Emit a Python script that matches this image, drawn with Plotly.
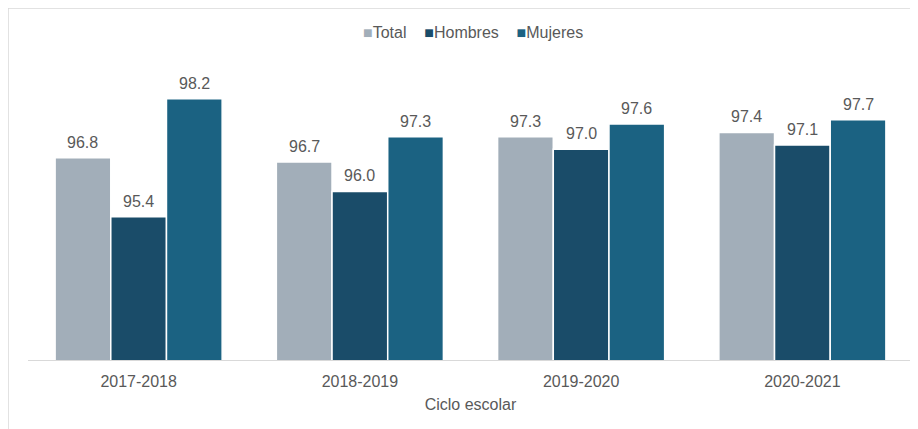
import plotly.graph_objects as go

categories = ["2017-2018", "2018-2019", "2019-2020", "2020-2021"]
total = [96.8, 96.7, 97.3, 97.4]
hombres = [95.4, 96.0, 97.0, 97.1]
mujeres = [98.2, 97.3, 97.6, 97.7]

series = [("Total", total, "#A2AEB9"), ("Hombres", hombres, "#1A4C69"), ("Mujeres", mujeres, "#1B6282")]

W, H = 918, 429
ML, MR, MT, MB = 20, 13, 57, 77
BARGAP = 0.245
plot_w = W - ML - MR
bar_px = plot_w / len(categories) * (1 - BARGAP) / len(series)

fig = go.Figure()
annotations = []
for i, (name, vals, col) in enumerate(series):
    fig.add_trace(go.Bar(
        x=categories, y=vals, name=name,
        marker=dict(color=col, line=dict(color="white", width=1.5)),
    ))
    for c, v in zip(categories, vals):
        annotations.append(dict(
            x=c, y=v, text=f"{v:.1f}", xref="x", yref="y", showarrow=False,
            xanchor="center", yanchor="bottom", xshift=(i - 1) * bar_px, yshift=5,
            font=dict(size=16, color="#595959"),
        ))

legend_html = "".join(
    f"<span style='color:{col}'>■</span>{name}" + ("&nbsp;&nbsp;&nbsp;&nbsp;" if i < len(series) - 1 else "")
    for i, (name, vals, col) in enumerate(series)
)
annotations.append(dict(text=legend_html, xref="paper", yref="paper", x=(465 - ML) / plot_w,
                        y=(352 - 25) / 295, xanchor="center", yanchor="middle", showarrow=False,
                        font=dict(size=16, color="#595959")))

fig.update_layout(
    width=W, height=H,
    margin=dict(l=ML, r=MR, t=MT, b=MB, autoexpand=False),
    paper_bgcolor="white", plot_bgcolor="white",
    font=dict(family="Liberation Sans, Arial, sans-serif", color="#595959", size=16),
    barmode="group", bargap=BARGAP, bargroupgap=0.0,
    showlegend=False,
    xaxis=dict(showline=True, linecolor="#D9D9D9", linewidth=1, ticks="", showgrid=False,
               automargin=False, ticklabelstandoff=7,
               tickfont=dict(size=16, color="#595959"),
               title=dict(text="Ciclo escolar", font=dict(size=16, color="#595959"), standoff=9)),
    yaxis=dict(visible=False, range=[92, 99], showgrid=False, automargin=False),
    annotations=annotations,
    shapes=[
        dict(type="line", xref="paper", yref="paper", x0=-ML / plot_w, x1=1.05, y0=352 / 295, y1=352 / 295,
             line=dict(color="#D9D9D9", width=1.5)),
        dict(type="line", xref="paper", yref="paper", x0=-ML / plot_w, x1=-ML / plot_w, y0=352 / 295, y1=-0.3,
             line=dict(color="#D9D9D9", width=1.5)),
    ],
)
fig.write_html("out.html")
